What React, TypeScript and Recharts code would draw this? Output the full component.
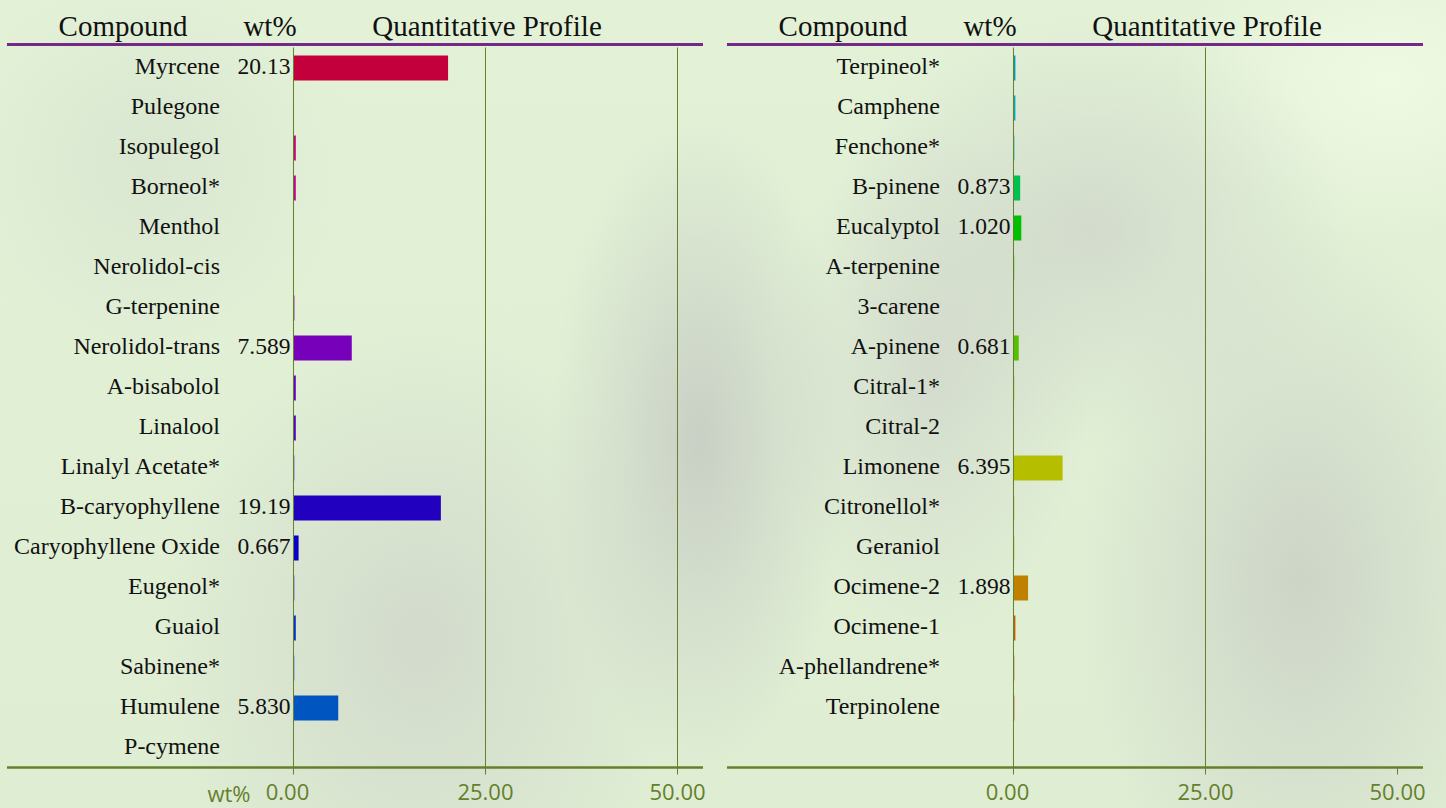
import React from "react";
import { BarChart, Bar, XAxis, YAxis, Cell, LabelList, ReferenceLine } from "recharts";

const leftNames = [
  "Myrcene", "Pulegone", "Isopulegol", "Borneol*", "Menthol", "Nerolidol-cis",
  "G-terpenine", "Nerolidol-trans", "A-bisabolol", "Linalool", "Linalyl Acetate*",
  "B-caryophyllene", "Caryophyllene Oxide", "Eugenol*", "Guaiol", "Sabinene*",
  "Humulene", "P-cymene",
];
const leftValues = [
  20.13, 0, 0.3, 0.3, 0, 0, 0.12, 7.589, 0.3, 0.3, 0.1, 19.19, 0.667, 0.1, 0.3, 0.1, 5.83, 0,
];
const leftColors = [
  "#c4003c", "#c40060", "#c4007a", "#c0008c", "#b000a0", "#a000b0", "#8c00b8", "#7700bb",
  "#6400bc", "#5500bd", "#3f00c0", "#2200c0", "#0a00c8", "#0010c8", "#0030c4", "#0040c4",
  "#0055c0", "#0070c0",
];

const rightNames = [
  "Terpineol*", "Camphene", "Fenchone*", "B-pinene", "Eucalyptol", "A-terpenine",
  "3-carene", "A-pinene", "Citral-1*", "Citral-2", "Limonene", "Citronellol*",
  "Geraniol", "Ocimene-2", "Ocimene-1", "A-phellandrene*", "Terpinolene",
];
const rightValues = [
  0.25, 0.25, 0.12, 0.873, 1.02, 0.1, 0, 0.681, 0.1, 0, 6.395, 0.1, 0.1, 1.898, 0.25, 0.1, 0.1,
];
const rightColors = [
  "#0099bb", "#00aabf", "#00c0c4", "#00c050", "#00c000", "#30c000", "#40c000", "#55c000",
  "#80c000", "#a0c000", "#b5bf00", "#c0b000", "#c0a000", "#c08000", "#c06000", "#c03000",
  "#c00000",
];

const xTicks = [0, 25, 50];
const ROWS = 18;

const OLIVE = "#64802c";
const PURPLE = "#74288a";
const SERIF = "'Liberation Serif', 'Times New Roman', serif";
const SANS = "'Open Sans', 'Noto Sans', sans-serif";

function buildRows(names: string[], values: number[]) {
  const rows: { name: string; value: number | null; idx: number }[] = [];
  for (let i = 0; i < ROWS; i++) {
    rows.push({
      name: i < names.length ? names[i] : " ",
      value: i < values.length ? values[i] : null,
      idx: i,
    });
  }
  return rows;
}

const fmt = (v: number) => (v >= 10 ? v.toFixed(2) : v.toFixed(3));

const CategoryTick = (props: any) => {
  const { y, payload } = props;
  return (
    <text x={220} y={y} dy={6} textAnchor="end" fontFamily={SERIF} fontSize={24} fill="#111">
      {payload.value}
    </text>
  );
};

const XTick = (props: any) => {
  const { x, payload } = props;
  const shift = payload.value === 0 ? -6 : 0;
  return (
    <text x={x + shift} y={800} textAnchor="middle" fontFamily={SANS} fontSize={22} fill={OLIVE}>
      {payload.value.toFixed(2)}
    </text>
  );
};

const ValueLabel = (props: any) => {
  const { x, y, height, value } = props;
  if (value == null || value < 0.5) return null;
  return (
    <text x={x - 3} y={y + height / 2} dy={6} textAnchor="end" fontFamily={SERIF} fontSize={23.5} fill="#111">
      {fmt(value)}
    </text>
  );
};

function Panel({ names, values, colors, left, grid }: any) {
  const data = buildRows(names, values);
  return (
    <div style={{ position: "absolute", left, top: 0 }}>
      <BarChart
        width={723}
        height={808}
        data={data}
        layout="vertical"
        margin={{ top: 47.5, right: 20, bottom: 0, left: 0 }}
        barCategoryGap={15}
      >
        <XAxis
          type="number"
          domain={[-37.3, 53.32]}
          ticks={xTicks}
          allowDataOverflow
          height={40.5}
          axisLine={{ stroke: OLIVE, strokeWidth: 2.5 }}
          tickLine={{ stroke: OLIVE, strokeWidth: 1 }}
          tickSize={7}
          tick={<XTick />}
          interval={0}
        />
        <YAxis
          type="category"
          dataKey="name"
          width={7}
          axisLine={false}
          tickLine={false}
          tick={<CategoryTick />}
          interval={0}
        />
        {grid.map((g: number) => (
          <ReferenceLine key={g} x={g} stroke={OLIVE} strokeWidth={1} />
        ))}
        <Bar dataKey="value" barSize={25} isAnimationActive={false}>
          {data.map((d, i) => (
            <Cell key={i} fill={colors[i] || "transparent"} />
          ))}
          <LabelList dataKey="value" content={<ValueLabel />} />
        </Bar>
      </BarChart>
    </div>
  );
}

const headerStyle = (cx: number): React.CSSProperties => ({
  position: "absolute",
  left: cx - 200,
  width: 400,
  top: 9,
  textAlign: "center",
  fontFamily: SERIF,
  fontSize: 29,
  lineHeight: "34px",
  color: "#111",
  whiteSpace: "nowrap",
});

export default function App() {
  const bg = [
    "radial-gradient(ellipse 150px 330px at 700px 440px, rgba(196,202,194,0.85), rgba(196,202,194,0))",
    "radial-gradient(ellipse 260px 220px at 1090px 230px, rgba(204,210,200,0.7), rgba(204,210,200,0))",
    "radial-gradient(ellipse 220px 360px at 1300px 580px, rgba(200,206,196,0.8), rgba(200,206,196,0))",
    "radial-gradient(ellipse 260px 320px at 420px 640px, rgba(204,210,200,0.7), rgba(204,210,200,0))",
    "radial-gradient(ellipse 160px 260px at 930px 380px, rgba(206,212,202,0.7), rgba(206,212,202,0))",
    "radial-gradient(ellipse 200px 200px at 150px 160px, rgba(210,220,204,0.5), rgba(210,220,204,0))",
    "radial-gradient(ellipse 220px 160px at 1390px 80px, rgba(240,250,228,0.95), rgba(240,250,228,0))",
    "linear-gradient(180deg, #e3f2d7 0%, #dfedd3 100%)",
  ].join(", ");
  return (
    <div
      style={{
        position: "absolute",
        left: 0,
        top: 0,
        width: 1446,
        height: 808,
        overflow: "hidden",
        background: bg,
      }}
    >
      <div style={headerStyle(123)}>Compound</div>
      <div style={headerStyle(270)}>wt%</div>
      <div style={headerStyle(487)}>Quantitative Profile</div>
      <div style={headerStyle(843)}>Compound</div>
      <div style={headerStyle(990)}>wt%</div>
      <div style={headerStyle(1207)}>Quantitative Profile</div>
      <div style={{ position: "absolute", left: 7, top: 43, width: 696, height: 3, background: PURPLE }} />
      <div style={{ position: "absolute", left: 727, top: 43, width: 696, height: 3, background: PURPLE }} />
      <Panel names={leftNames} values={leftValues} colors={leftColors} left={0} grid={[0, 25, 50]} />
      <Panel names={rightNames} values={rightValues} colors={rightColors} left={720} grid={[0, 25]} />
      <div
        style={{
          position: "absolute",
          left: 179,
          width: 100,
          top: 779,
          textAlign: "center",
          fontFamily: SANS,
          fontSize: 22,
          lineHeight: "28px",
          color: OLIVE,
        }}
      >
        wt%
      </div>
    </div>
  );
}
